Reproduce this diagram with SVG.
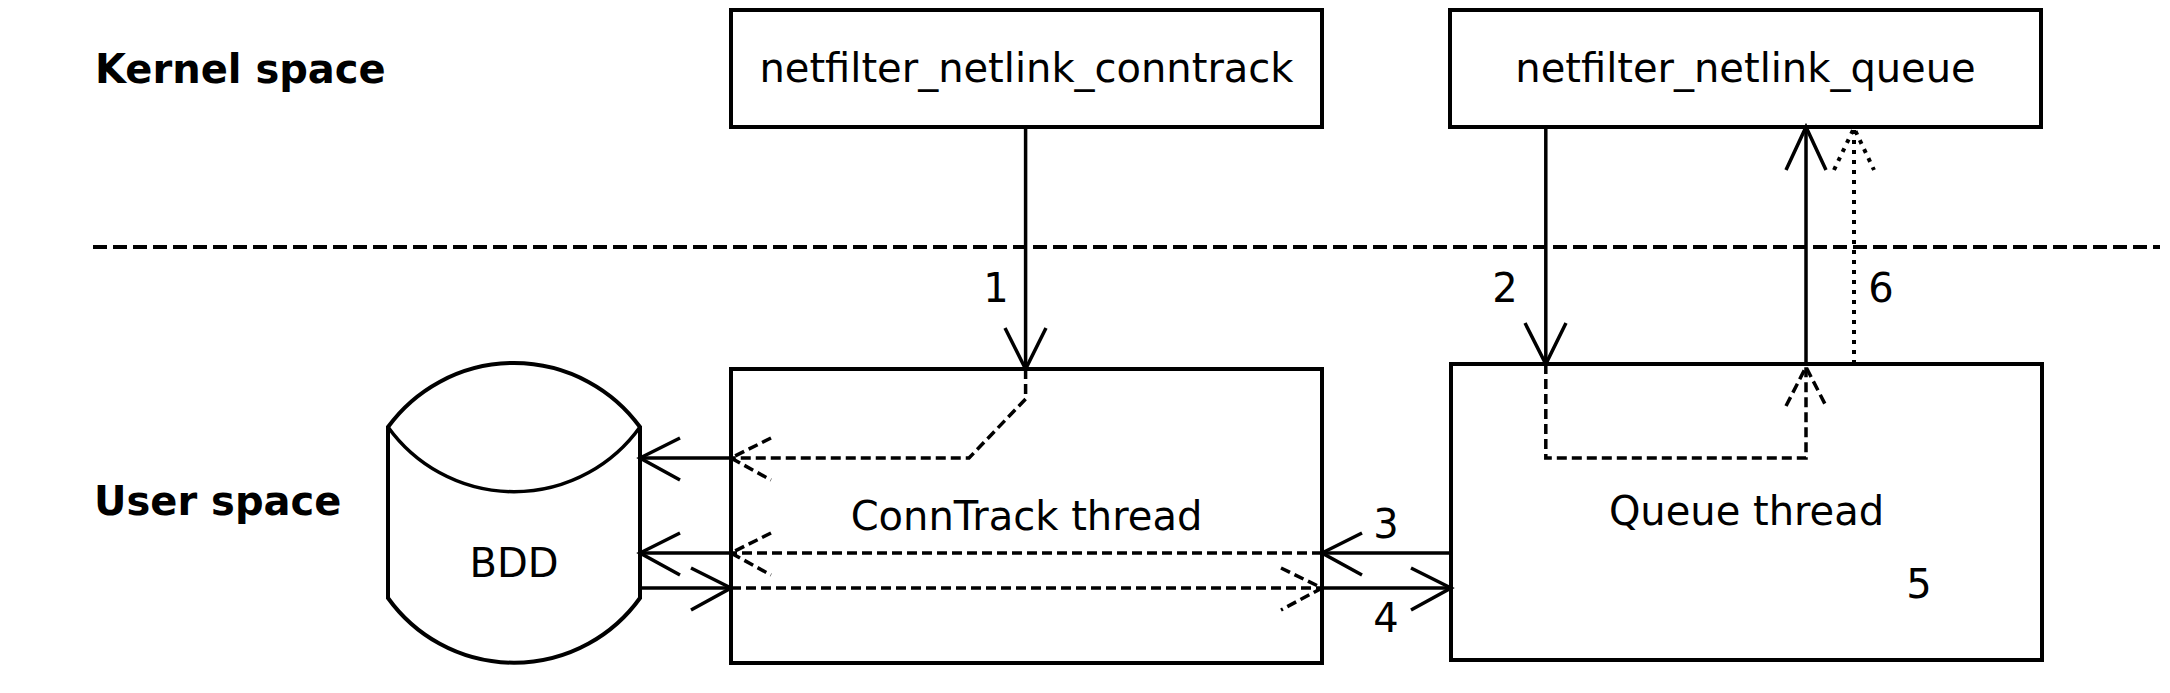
<svg xmlns="http://www.w3.org/2000/svg" width="2170" height="693" viewBox="0 0 2170 693">
<style>
text{font-family:"DejaVu Sans","Liberation Sans",sans-serif;font-size:40px;fill:#000}
.b{font-weight:bold}
.m{text-anchor:middle}
.box{fill:#fff;stroke:#000;stroke-width:4}
.s{fill:none;stroke:#000;stroke-width:3.5}
.d{fill:none;stroke:#000;stroke-width:3.5;stroke-dasharray:10 5}
.o{fill:none;stroke:#000;stroke-width:4;stroke-dasharray:4 6}
</style>
<rect width="2170" height="693" fill="#fff"/>
<g id="labels">
<text class="b" x="95" y="83">Kernel space</text>
<text class="b" x="94" y="515">User space</text>
<line x1="93" y1="247" x2="2160" y2="247" stroke="#000" stroke-width="4" stroke-dasharray="14 6"/>
</g>
<g id="nf_conntrack">
<rect class="box" x="731" y="10" width="591" height="117"/>
<text class="m" x="1026.5" y="82">netfilter_netlink_conntrack</text>
</g>
<g id="nf_queue">
<rect class="box" x="1450" y="10" width="591" height="117"/>
<text class="m" x="1745.5" y="82">netfilter_netlink_queue</text>
</g>
<g id="conntrack_thread">
<rect class="box" x="731" y="369" width="591" height="294"/>
<text class="m" x="1026.5" y="530">ConnTrack thread</text>
</g>
<g id="queue_thread">
<rect class="box" x="1451" y="364" width="591" height="296"/>
<text class="m" x="1746.5" y="525">Queue thread</text>
<text class="m" x="1919" y="598">5</text>
</g>
<g id="bdd">
<path class="box" d="M388,427 A156,156 0 0 1 640,427 L640,598 A155,155 0 0 1 388,598 Z"/>
<path class="s" stroke-width="4" d="M388,427 A155,155 0 0 0 640,427"/>
<text class="m" x="514" y="577">BDD</text>
</g>
<g id="connectors">
<line class="s" x1="1025.6" y1="127" x2="1025.6" y2="369"/>
<path class="s" d="M1005,328 L1025.6,369 L1046,328"/>
<text class="m" x="996" y="302">1</text>
<line class="s" x1="1545.8" y1="127" x2="1545.8" y2="364"/>
<path class="s" d="M1525,323 L1545.8,364 L1566,323"/>
<text class="m" x="1505" y="302">2</text>
<line class="s" x1="1806" y1="364" x2="1806" y2="127"/>
<path class="s" d="M1786,170 L1806,127 L1826,170"/>
<line class="o" x1="1854" y1="364" x2="1854" y2="130"/>
<path class="o" d="M1834,170 L1854,128 L1874,170"/>
<text class="m" x="1881" y="302">6</text>
<path class="d" d="M1545.8,364 L1545.8,458 L1806,458 L1806,367"/>
<path class="d" d="M1786,406 L1806,367 L1826,406"/>
<path class="d" d="M1025.6,369 L1025.6,399 L969,458 L731,458"/>
<path class="d" d="M771,438 L731,458 L771,480"/>
<line class="s" x1="640" y1="458" x2="731" y2="458" stroke-width="4"/>
<path class="s" stroke-width="4" d="M680,438 L640,458 L680,480"/>
<line class="s" x1="640" y1="553" x2="731" y2="553" stroke-width="4"/>
<path class="s" stroke-width="4" d="M680,533 L640,553 L680,575"/>
<line class="s" x1="640" y1="588" x2="731" y2="588" stroke-width="4"/>
<path class="s" stroke-width="4" d="M691,568 L731,588 L691,610"/>
<line class="d" x1="1322" y1="553" x2="731" y2="553"/>
<path class="d" d="M771,533 L731,553 L771,575"/>
<line class="d" x1="731" y1="588" x2="1322" y2="588"/>
<path class="d" d="M1281,568 L1322,588 L1281,610"/>
<line class="s" x1="1451" y1="553" x2="1322" y2="553" stroke-width="4"/>
<path class="s" stroke-width="4" d="M1362,533 L1322,553 L1362,575"/>
<text class="m" x="1386" y="538">3</text>
<line class="s" x1="1322" y1="588" x2="1451" y2="588" stroke-width="4"/>
<path class="s" stroke-width="4" d="M1411,568 L1451,588 L1411,610"/>
<text class="m" x="1386" y="632">4</text>
</g>
</svg>
